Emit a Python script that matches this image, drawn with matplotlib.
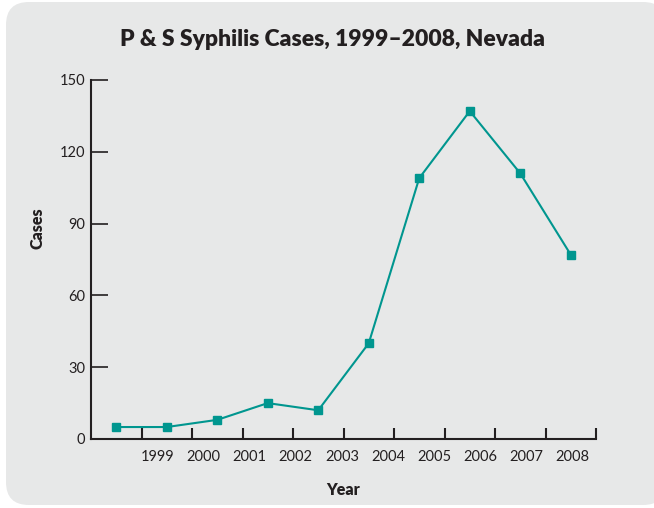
import numpy as np
import matplotlib.pyplot as plt
from matplotlib.patches import FancyBboxPatch

# Data
years = ['1999', '2000', '2001', '2002', '2003', '2004', '2005', '2006', '2007', '2008']
cases = [5, 5, 8, 15, 12, 40, 109, 137, 111, 77]
y_ticks = [0, 30, 60, 90, 120, 150]

teal = '#00968f'
dark = '#231f20'
panel = '#e7e8e8'

plt.rcParams['font.family'] = ['Lato', 'DejaVu Sans']

fig = plt.figure(figsize=(6.54, 5.08), dpi=100)
fig.patch.set_facecolor('white')

# rounded grey panel behind everything
W, H = 654, 508
box = FancyBboxPatch((6 / W, 3 / H), 660 / W, 503 / H,
                     boxstyle='round,pad=0,rounding_size=0.035',
                     transform=fig.transFigure, facecolor=panel,
                     edgecolor='none', mutation_aspect=W / H, zorder=-5)
fig.patches.append(box)

ax = fig.add_axes([91 / W, 1 - 439 / H, 505 / W, 359 / H])
ax.set_facecolor('none')

# points sit midway between the tick marks
x = np.arange(len(cases)) + 0.5
ax.plot(x, cases, color=teal, lw=1.5, marker='s', ms=5.5,
        markerfacecolor=teal, markeredgecolor=teal, clip_on=False, zorder=3)

ax.set_xlim(0, 10)
ax.set_ylim(0, 150)

for s in ['top', 'right']:
    ax.spines[s].set_visible(False)
for s in ['left', 'bottom']:
    ax.spines[s].set_color(dark)
    ax.spines[s].set_linewidth(1.5)

ax.set_yticks(y_ticks)
ax.set_yticklabels([str(v) for v in y_ticks], fontsize=10.5, color=dark)
ax.tick_params(axis='y', direction='in', length=12, width=1.2, color=dark, pad=4)

# tick marks at unit steps, year labels on their own (unevenly spaced) positions
ax.set_xticks(np.arange(1, 11))
ax.set_xticklabels([])
ax.tick_params(axis='x', which='major', direction='in', length=8, width=1.5, color=dark)
ax.set_xticks(np.linspace(1.31, 9.54, len(years)), minor=True)
ax.set_xticklabels(years, minor=True, fontsize=10.5, color=dark)
ax.tick_params(axis='x', which='minor', length=0, pad=8)

ax.set_xlabel('Year', fontsize=11.5, fontweight='heavy', color=dark, labelpad=13)
ax.set_ylabel('Cases', fontsize=11.5, fontweight='heavy', color=dark, labelpad=8)
ax.yaxis.set_label_coords(-0.09, 0.588)

fig.text(332 / W, 1 - 40 / H, 'P & S Syphilis Cases, 1999\u20132008, Nevada',
         ha='center', va='center', fontsize=16.5, fontweight='heavy', color=dark)

fig.savefig('out.png', dpi=100)
